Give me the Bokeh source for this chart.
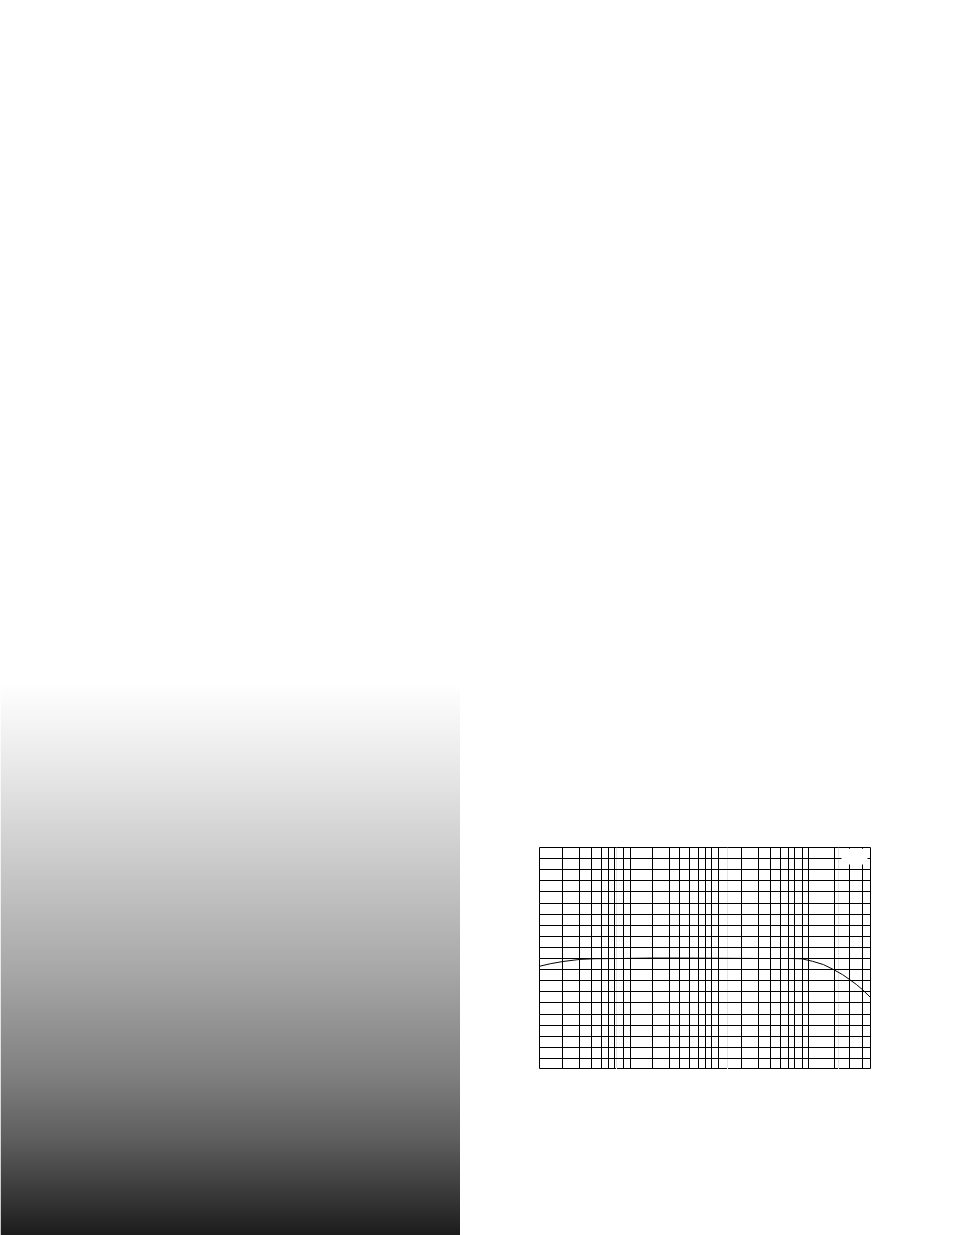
import numpy as np
from bokeh.plotting import figure
from bokeh.layouts import column, row
from bokeh.models import Spacer, FixedTicker, Grid, BoxAnnotation, Range1d
from bokeh.embed import file_html
from bokeh.resources import INLINE

# ---------------- data ----------------
# vertical grid lines of the response chart (frequency, Hz, log axis 20 Hz - 20 kHz)
grid_freqs = [32.6, 46.4, 58.4, 73.4, 84.9, 96.2, 116, 134.2,
              207.8, 296, 372, 458, 552, 626, 724, 821,
              1351, 1886, 2471, 2981, 3521, 4071, 4710, 5337,
              9166, 12784, 16758]
# horizontal grid lines (level, dB)
grid_levels = [-9, -8, -7, -6, -5, -4, -3, -2, -1, 0, 1, 2, 3, 4, 5, 6, 7, 8, 9]

# measured response curve
curve_freq = [20, 25.1, 32.6, 46.4, 64.1, 108, 201, 376, 864, 1986, 3707,
              4710, 5860, 7370, 9166, 10940, 12784, 14640, 16758, 20000]
curve_db = [-0.70, -0.47, -0.27, -0.08, -0.02, 0.0, 0.04, 0.04, 0.02, 0.0, 0.0,
            -0.03, -0.25, -0.55, -1.02, -1.45, -1.92, -2.35, -2.85, -3.6]

x_limits = (20, 20000)
y_limits = (-10, 10)

# empty white label box in the top-right corner (Hz / dB)
box_freq = (10714, 18406)
box_db = (8.47, 9.88)

# grey gradient panel: (fraction from top, grey level)
grad_pos = [0.0, 0.155, 0.336, 0.518, 0.70, 0.822, 0.942, 1.0]
grad_grey = [255, 232, 200, 168, 130, 96, 51, 28]

# ---------------- gradient panel ----------------
GH, GW = 550, 460
rows_top = (np.arange(GH) + 0.5) / GH
grey = np.interp(rows_top, grad_pos, grad_grey).astype(np.uint8)[::-1]  # row 0 = bottom
img = np.empty((GH, 2), dtype=np.uint32)
view = img.view(dtype=np.uint8).reshape((GH, 2, 4))
view[:, :, 0] = grey[:, None]
view[:, :, 1] = grey[:, None]
view[:, :, 2] = grey[:, None]
view[:, :, 3] = 255

g = figure(width=GW, height=GH, x_range=Range1d(0, 1), y_range=Range1d(0, 1),
           toolbar_location=None, output_backend="svg",
           x_axis_location=None, y_axis_location=None, min_border=0,
           outline_line_color=None, background_fill_color="white",
           border_fill_color="white")
g.grid.visible = False
g.image_rgba(image=[img], x=0, y=0, dw=1, dh=1)

# ---------------- response chart ----------------
p = figure(width=332, height=222, x_axis_type="log",
           x_range=Range1d(*x_limits), y_range=Range1d(*y_limits),
           toolbar_location=None, output_backend="svg",
           x_axis_location=None, y_axis_location=None, min_border=0,
           outline_line_color="black", outline_line_width=1, outline_line_alpha=1,
           background_fill_color="white", border_fill_color="white")

p.add_layout(Grid(dimension=0, ticker=FixedTicker(ticks=grid_freqs),
                  grid_line_color="black", grid_line_width=1, grid_line_alpha=1))
p.add_layout(Grid(dimension=1, ticker=FixedTicker(ticks=grid_levels),
                  grid_line_color="black", grid_line_width=1, grid_line_alpha=1))

p.line(curve_freq, curve_db, line_color="black", line_width=1)

p.add_layout(BoxAnnotation(left=box_freq[0], right=box_freq[1],
                           bottom=box_db[0], top=box_db[1],
                           fill_color="white", fill_alpha=1, line_color=None))

layout = column(Spacer(height=685),
                row(g, Spacer(width=79), column(Spacer(height=162), p)))

open("out.html", "w").write(file_html(layout, INLINE))
